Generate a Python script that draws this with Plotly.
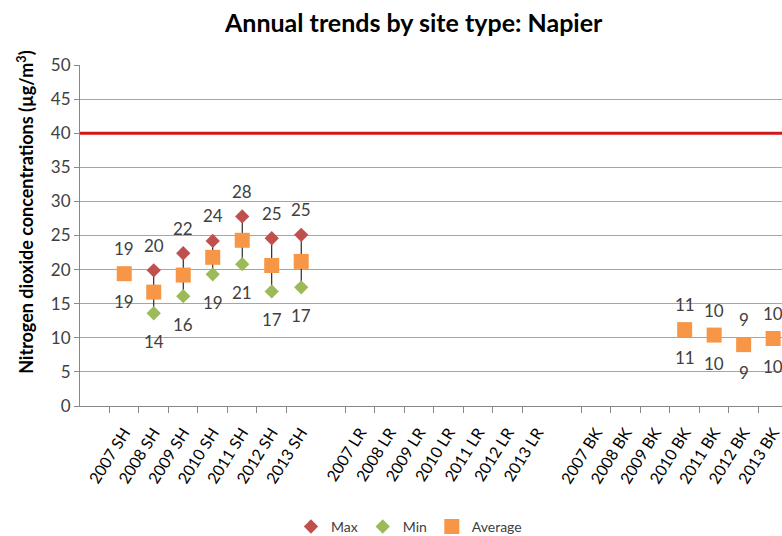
import plotly.graph_objects as go

# Category slots: a blank slot before each site-type group
years = ["2007", "2008", "2009", "2010", "2011", "2012", "2013"]
blanks = ["_gap1", "_gap2", "_gap3"]
categories = ([blanks[0]] + [f"{y} SH" for y in years]
              + [blanks[1]] + [f"{y} LR" for y in years]
              + [blanks[2]] + [f"{y} BK" for y in years])
labelled = [c for c in categories if c not in blanks]

# Measured sites (SH = State Highway, BK = background)
sites = ["2007 SH", "2008 SH", "2009 SH", "2010 SH", "2011 SH", "2012 SH", "2013 SH",
         "2010 BK", "2011 BK", "2012 BK", "2013 BK"]
max_vals = [19.4, 19.9, 22.4, 24.2, 27.8, 24.6, 25.1, 11.2, 10.4, 9.0, 9.9]
min_vals = [19.4, 13.6, 16.1, 19.3, 20.8, 16.8, 17.4, 11.2, 10.4, 9.0, 9.9]
avg_vals = [19.4, 16.7, 19.2, 21.8, 24.3, 20.6, 21.2, 11.2, 10.4, 9.0, 9.9]

guideline = 40

MAX_C = "#C0504D"
MIN_C = "#9BBB59"
AVG_C = "#F79646"
FONT = "Lato"

fig = go.Figure()

# High-low connector lines between min and max
hx, hy = [], []
for s, lo, hi in zip(sites, min_vals, max_vals):
    hx += [s, s, None]
    hy += [lo, hi, None]
fig.add_trace(go.Scatter(x=hx, y=hy, mode="lines", line=dict(color="black", width=1),
                         showlegend=False, hoverinfo="skip"))

fig.add_trace(go.Scatter(x=sites, y=max_vals, mode="markers", name="Max",
                         marker=dict(symbol="diamond", size=11, color=MAX_C)))
fig.add_trace(go.Scatter(x=sites, y=min_vals, mode="markers", name="Min",
                         marker=dict(symbol="diamond", size=11, color=MIN_C)))
fig.add_trace(go.Scatter(x=sites, y=avg_vals, mode="markers", name="Average",
                         marker=dict(symbol="square", size=15, color=AVG_C)))

# Guideline across the full plot width
fig.add_hline(y=guideline, line=dict(color="#D01818", width=3), layer="above")

# Value labels: max above, min below
for s, hi, lo in zip(sites, max_vals, min_vals):
    fig.add_annotation(x=s, y=hi, text=f"{hi:.0f}", showarrow=False, yshift=25,
                       font=dict(size=17, color="#404040", family=FONT))
    fig.add_annotation(x=s, y=lo, text=f"{lo:.0f}", showarrow=False, yshift=-28,
                       font=dict(size=17, color="#404040", family=FONT))

# Y axis title
fig.add_annotation(xref="paper", yref="paper", x=-0.078, y=0.570, textangle=-90,
                   text="<b>Nitrogen dioxide concentrations (µg/m<sup>3</sup>)</b>",
                   showarrow=False, xanchor="center", yanchor="middle",
                   font=dict(size=18, color="#000000", family=FONT))

fig.update_layout(
    width=782, height=536,
    margin=dict(l=80, r=0, t=65, b=130),
    paper_bgcolor="white", plot_bgcolor="white",
    font=dict(family=FONT, color="#000000"),
    title=dict(text="<b>Annual trends by site type: Napier</b>", x=0.529, xanchor="center",
               y=0.957, yanchor="middle", font=dict(size=25, color="#000000", family=FONT)),
    showlegend=True,
    legend=dict(orientation="h", x=0.523, xanchor="center", xref="container",
                y=0.017, yanchor="middle", yref="container",
                font=dict(size=14, color="#404040", family=FONT), itemwidth=30,
                tracegroupgap=0),
    xaxis=dict(type="category", categoryorder="array", categoryarray=categories,
               range=[-0.5, 23.3], tickson="boundaries", ticks="outside", ticklen=6,
               tickcolor="#888888", showline=True, linecolor="#888888", linewidth=1,
               showgrid=False, tickangle=-58, tickfont=dict(size=16, color="#000000"),
               tickvals=labelled, ticktext=labelled, ticklabelstandoff=10,
               automargin=False),
    yaxis=dict(range=[0, 50], dtick=5, tick0=0, showgrid=True, gridcolor="#A6A6A6",
               gridwidth=1, zeroline=False, showline=True, linecolor="#888888",
               ticks="outside", ticklen=5, tickcolor="#888888",
               tickfont=dict(size=17, color="#404040"), automargin=False),
)

fig.write_html("out.html")
